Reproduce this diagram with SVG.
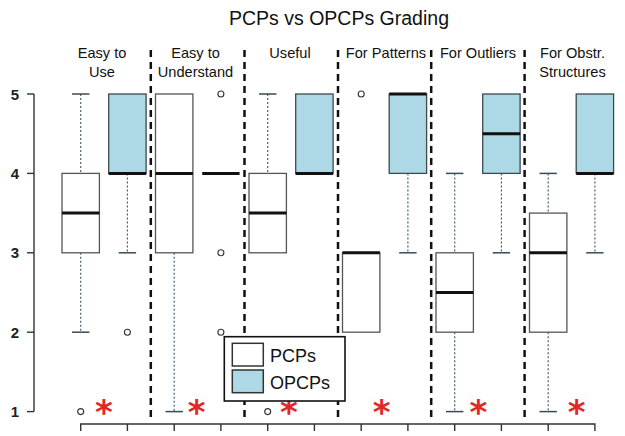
<svg xmlns="http://www.w3.org/2000/svg" width="625" height="436" viewBox="0 0 625 436">
<style>
text{font-family:"Liberation Sans",Arial,sans-serif;fill:#111}
.title{font-size:19.5px;text-anchor:middle}
.cat{font-size:14.6px;text-anchor:middle}
.ylab{font-size:15px;text-anchor:end;font-weight:bold;fill:#222}
.leg{font-size:18px}
.ax{stroke:#333;stroke-width:1.4;fill:none}
.sep{stroke:#111;stroke-width:2.5;stroke-dasharray:7 5;fill:none}
.boxp{fill:#fff;stroke:#555;stroke-width:1.3}
.boxo{fill:#add8e6;stroke:#3d4a4e;stroke-width:1.3}
.med{stroke:#111;stroke-width:3}
.wh{stroke:#4a6070;stroke-width:1.2;stroke-dasharray:2 2}
.cap{stroke:#3a4a55;stroke-width:1.5}
.out{fill:none;stroke:#333;stroke-width:1.1}
.star{font-family:"DejaVu Sans",sans-serif;font-size:34px;font-weight:bold;fill:#e02828;text-anchor:middle}
</style>
<text class="title" x="339" y="25">PCPs vs OPCPs Grading</text>
<g id="axes">
<line class="ax" x1="34" y1="94" x2="34" y2="411.6"/>
<line class="ax" x1="27" y1="94" x2="34" y2="94"/>
<line class="ax" x1="27" y1="173.4" x2="34" y2="173.4"/>
<line class="ax" x1="27" y1="252.8" x2="34" y2="252.8"/>
<line class="ax" x1="27" y1="332.2" x2="34" y2="332.2"/>
<line class="ax" x1="27" y1="411.6" x2="34" y2="411.6"/>
<text class="ylab" x="19" y="99.5">5</text>
<text class="ylab" x="19" y="178.9">4</text>
<text class="ylab" x="19" y="258.3">3</text>
<text class="ylab" x="19" y="337.7">2</text>
<text class="ylab" x="19" y="417.1">1</text>
<path class="ax" d="M80.7 431V424H594.9V431M127.4 424V431M174.2 424V431M220.9 424V431M267.7 424V431M314.4 424V431M361.2 424V431M407.9 424V431M454.7 424V431M501.4 424V431M548.2 424V431"/>
</g>
<g id="connectors">
<line class="sep" x1="150.8" y1="50" x2="150.8" y2="420"/>
<line class="sep" x1="244.5" y1="50" x2="244.5" y2="420"/>
<line class="sep" x1="338" y1="50" x2="338" y2="420"/>
<line class="sep" x1="431.2" y1="50" x2="431.2" y2="420"/>
<line class="sep" x1="524.6" y1="50" x2="524.6" y2="420"/>
</g>
<g id="easy-to-use">
<text class="cat" x="102" y="58">Easy to</text>
<text class="cat" x="102" y="76.5">Use</text>
<line class="wh" x1="80.7" y1="94" x2="80.7" y2="173.4"/>
<line class="wh" x1="80.7" y1="252.8" x2="80.7" y2="332.2"/>
<line class="cap" x1="72" y1="94" x2="89.4" y2="94"/>
<line class="cap" x1="72" y1="332.2" x2="89.4" y2="332.2"/>
<rect class="boxp" x="62" y="173.4" width="37.4" height="79.4"/>
<line class="med" x1="62" y1="213.1" x2="99.4" y2="213.1"/>
<circle class="out" cx="80.7" cy="411.6" r="3"/>
<line class="wh" x1="127.4" y1="173.4" x2="127.4" y2="252.8"/>
<line class="cap" x1="118.7" y1="252.8" x2="136.1" y2="252.8"/>
<rect class="boxo" x="108.7" y="94" width="37.4" height="79.4"/>
<line class="med" x1="108.7" y1="173.4" x2="146.1" y2="173.4"/>
<circle class="out" cx="127.4" cy="332.2" r="3"/>
<text class="star" x="104" y="424">*</text>
</g>
<g id="easy-to-understand">
<text class="cat" x="195.5" y="58">Easy to</text>
<text class="cat" x="195.5" y="76.5">Understand</text>
<line class="wh" x1="174.2" y1="252.8" x2="174.2" y2="411.6"/>
<line class="cap" x1="165.5" y1="411.6" x2="182.9" y2="411.6"/>
<rect class="boxp" x="155.5" y="94" width="37.4" height="158.8"/>
<line class="med" x1="155.5" y1="173.4" x2="192.9" y2="173.4"/>
<line class="med" x1="202.2" y1="173.4" x2="239.6" y2="173.4"/>
<circle class="out" cx="220.9" cy="94" r="3"/>
<circle class="out" cx="220.9" cy="252.8" r="3"/>
<circle class="out" cx="220.9" cy="332.2" r="3"/>
<text class="star" x="196.7" y="424">*</text>
</g>
<g id="useful">
<text class="cat" x="290" y="58">Useful</text>
<line class="wh" x1="267.7" y1="94" x2="267.7" y2="173.4"/>
<line class="cap" x1="259" y1="94" x2="276.4" y2="94"/>
<rect class="boxp" x="249" y="173.4" width="37.4" height="79.4"/>
<line class="med" x1="249" y1="213.1" x2="286.4" y2="213.1"/>
<circle class="out" cx="267.7" cy="411.6" r="3"/>
<rect class="boxo" x="295.7" y="94" width="37.4" height="79.4"/>
<line class="med" x1="295.7" y1="173.4" x2="333.1" y2="173.4"/>
<text class="star" x="289" y="424">*</text>
</g>
<g id="for-patterns">
<text class="cat" x="386" y="58">For Patterns</text>
<rect class="boxp" x="342.5" y="252.8" width="37.4" height="79.4"/>
<line class="med" x1="342.5" y1="252.8" x2="379.9" y2="252.8"/>
<circle class="out" cx="361.2" cy="94" r="3"/>
<line class="wh" x1="407.9" y1="173.4" x2="407.9" y2="252.8"/>
<line class="cap" x1="399.2" y1="252.8" x2="416.6" y2="252.8"/>
<rect class="boxo" x="389.2" y="94" width="37.4" height="79.4"/>
<line class="med" x1="389.2" y1="94" x2="426.6" y2="94"/>
<text class="star" x="381.7" y="424">*</text>
</g>
<g id="for-outliers">
<text class="cat" x="478" y="58">For Outliers</text>
<line class="wh" x1="454.7" y1="173.4" x2="454.7" y2="252.8"/>
<line class="wh" x1="454.7" y1="332.2" x2="454.7" y2="411.6"/>
<line class="cap" x1="446" y1="173.4" x2="463.4" y2="173.4"/>
<line class="cap" x1="446" y1="411.6" x2="463.4" y2="411.6"/>
<rect class="boxp" x="436" y="252.8" width="37.4" height="79.4"/>
<line class="med" x1="436" y1="292.5" x2="473.4" y2="292.5"/>
<line class="wh" x1="501.4" y1="173.4" x2="501.4" y2="252.8"/>
<line class="cap" x1="492.7" y1="252.8" x2="510.1" y2="252.8"/>
<rect class="boxo" x="482.7" y="94" width="37.4" height="79.4"/>
<line class="med" x1="482.7" y1="133.7" x2="520.1" y2="133.7"/>
<text class="star" x="478.3" y="424">*</text>
</g>
<g id="for-obstr-structures">
<text class="cat" x="572.5" y="58">For Obstr.</text>
<text class="cat" x="572.5" y="76.5">Structures</text>
<line class="wh" x1="548.2" y1="173.4" x2="548.2" y2="213.1"/>
<line class="wh" x1="548.2" y1="332.2" x2="548.2" y2="411.6"/>
<line class="cap" x1="539.5" y1="173.4" x2="556.9" y2="173.4"/>
<line class="cap" x1="539.5" y1="411.6" x2="556.9" y2="411.6"/>
<rect class="boxp" x="529.5" y="213.1" width="37.4" height="119.1"/>
<line class="med" x1="529.5" y1="252.8" x2="566.9" y2="252.8"/>
<line class="wh" x1="594.9" y1="173.4" x2="594.9" y2="252.8"/>
<line class="cap" x1="586.2" y1="252.8" x2="603.6" y2="252.8"/>
<rect class="boxo" x="576.2" y="94" width="37.4" height="79.4"/>
<line class="med" x1="576.2" y1="173.4" x2="613.6" y2="173.4"/>
<text class="star" x="576.7" y="424">*</text>
</g>
<g id="legend">
<rect x="224.3" y="336.7" width="120.7" height="64.3" fill="#fff" stroke="#111" stroke-width="1.6"/>
<rect x="232.3" y="343.3" width="31" height="22.7" fill="#fff" stroke="#333" stroke-width="1.5"/>
<rect x="232.3" y="370" width="31" height="22.7" fill="#add8e6" stroke="#333" stroke-width="1.5"/>
<text class="leg" x="270" y="362.3">PCPs</text>
<text class="leg" x="270" y="389">OPCPs</text>
</g>
</svg>
